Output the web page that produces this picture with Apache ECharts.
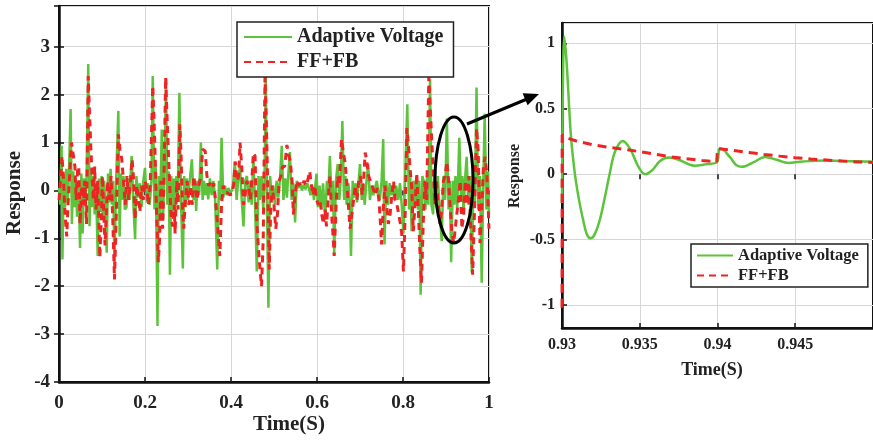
<!DOCTYPE html>
<html>
<head>
<meta charset="utf-8">
<script src="https://cdn.jsdelivr.net/npm/echarts@6/dist/echarts.min.js"></script>
<style>
html,body{margin:0;padding:0;background:#fff;}
#c{width:873px;height:442px;}
</style>
</head>
<body>
<div id="c"></div>
<script>
const seriesNames = ['Adaptive Voltage', 'FF+FB'];

// Main view: time (s), response
const greenMain = [
[0.000,0.05],[0.003,-0.3],[0.006,0.93],[0.008,-1.44],[0.011,0.35],[0.014,-0.35],[0.017,0.45],[0.020,-0.25],[0.023,0.3],[0.027,1.70],
[0.030,-0.7],[0.033,0.4],[0.036,-0.35],[0.039,0.25],[0.042,-0.55],[0.045,0.2],[0.049,-1.2],[0.052,0.35],[0.055,-0.9],[0.058,0.25],
[0.061,-0.3],[0.064,0.2],[0.068,2.64],[0.071,-0.75],[0.074,0.45],[0.077,-0.35],[0.080,0.3],[0.083,-0.5],[0.086,0.15],[0.090,-1.37],
[0.093,0.25],[0.096,-0.45],[0.099,0.3],[0.102,-0.6],[0.105,0.2],[0.108,-0.4],[0.111,-1.3],[0.114,0.35],[0.117,-0.25],[0.120,0.45],
[0.123,-0.3],[0.126,0.2],[0.129,-1.55],[0.133,0.25],[0.138,1.66],[0.141,-0.96],[0.144,0.35],[0.147,-0.2],[0.150,0.3],[0.153,-0.4],
[0.157,-0.35],[0.160,0.25],[0.164,-0.2],[0.169,0.72],[0.173,-0.3],[0.177,-1.02],[0.180,0.3],[0.184,-0.15],[0.188,0.15],[0.192,-0.35],
[0.196,0.2],[0.200,0.47],[0.204,-0.25],[0.207,0.15],[0.211,-0.3],[0.215,0.2],[0.218,2.39],[0.222,-0.4],[0.225,0.5],[0.229,-2.83],
[0.232,0.3],[0.235,-0.5],[0.239,1.27],[0.242,-0.6],[0.245,0.35],[0.249,2.32],[0.252,-0.3],[0.255,0.4],[0.258,-1.76],[0.261,0.3],
[0.264,-0.5],[0.267,0.25],[0.270,-0.45],[0.273,0.3],[0.276,-0.2],[0.280,2.04],[0.284,-0.3],[0.288,-1.63],[0.291,0.3],[0.294,-0.35],
[0.297,0.25],[0.300,-0.2],[0.304,0.2],[0.309,0.65],[0.313,-0.2],[0.316,0.15],[0.319,-0.43],[0.322,0.2],[0.326,-0.1],[0.330,1.0],
[0.334,-0.2],[0.337,0.2],[0.341,-0.1],[0.344,0.15],[0.347,-0.19],[0.351,0.25],[0.355,-0.1],[0.359,0.2],[0.363,-0.15],[0.368,-1.65],
[0.372,0.2],[0.375,-0.2],[0.378,1.1],[0.382,-0.15],[0.386,0.1],[0.390,-0.1],[0.394,0.05],[0.398,-0.05],[0.402,0.0],[0.405,0.15],
[0.409,0.6],[0.413,-0.2],[0.417,0.25],[0.421,0.5],[0.425,-0.2],[0.429,-0.75],[0.433,0.2],[0.437,0.3],[0.441,-0.25],[0.445,0.2],
[0.448,-0.3],[0.452,0.7],[0.456,-0.3],[0.460,-1.69],[0.464,0.3],[0.467,-0.2],[0.471,0.3],[0.475,-0.4],[0.478,0.2],[0.481,2.38],
[0.484,-0.5],[0.487,-2.45],[0.491,0.3],[0.495,-0.2],[0.498,0.1],[0.502,-0.3],[0.506,0.2],[0.510,-0.15],[0.514,0.25],[0.518,0.93],
[0.522,-0.2],[0.526,0.25],[0.530,-0.15],[0.533,0.3],[0.537,0.8],[0.541,-0.2],[0.545,0.15],[0.549,-0.67],[0.553,0.2],[0.557,0.05],
[0.561,0.15],[0.565,0.0],[0.569,0.12],[0.573,0.02],[0.577,0.15],[0.581,0.05],[0.585,-0.1],[0.589,0.1],[0.593,-0.2],[0.596,0.1],
[0.599,0.35],[0.602,-0.35],[0.606,0.1],[0.610,-0.4],[0.614,0.15],[0.619,-0.6],[0.623,0.2],[0.626,-0.1],[0.630,0.72],[0.634,-0.3],
[0.637,0.2],[0.640,-1.34],[0.644,0.2],[0.648,0.55],[0.652,-0.2],[0.655,0.2],[0.659,1.45],[0.663,-0.2],[0.666,0.3],[0.669,-0.3],
[0.673,0.15],[0.676,-0.2],[0.679,-1.37],[0.683,0.2],[0.686,-0.15],[0.690,0.15],[0.693,-0.25],[0.697,0.2],[0.700,0.55],[0.704,-0.2],
[0.707,0.15],[0.711,-0.3],[0.715,0.2],[0.719,0.55],[0.723,-0.2],[0.727,0.1],[0.731,-0.1],[0.735,0.05],[0.739,0.2],[0.743,-0.05],
[0.746,-0.2],[0.750,0.15],[0.754,1.07],[0.757,-1.13],[0.761,0.2],[0.765,-0.3],[0.769,0.15],[0.772,-0.1],[0.776,0.1],[0.780,-0.2],
[0.784,0.1],[0.789,-0.2],[0.793,0.15],[0.797,-0.3],[0.801,-0.9],[0.805,0.3],[0.810,1.8],[0.814,-0.4],[0.817,0.3],[0.820,-0.85],
[0.824,0.2],[0.828,-0.3],[0.831,0.3],[0.835,-0.4],[0.838,0.2],[0.841,-2.18],[0.845,0.3],[0.848,0.2],[0.852,-0.4],[0.856,0.3],
[0.859,-0.3],[0.863,2.32],[0.866,-0.3],[0.870,-0.5],[0.873,0.35],[0.877,-0.3],[0.881,0.3],[0.885,-0.4],[0.890,-1.06],[0.894,0.3],
[0.898,-0.2],[0.902,1.5],[0.906,-0.4],[0.909,0.2],[0.912,-1.5],[0.916,0.2],[0.919,-0.3],[0.922,0.3],[0.926,-0.4],[0.931,1.1],
[0.935,-0.2],[0.938,0.3],[0.941,-0.5],[0.944,0.2],[0.948,0.7],[0.952,-0.3],[0.956,0.3],[0.960,-1.72],[0.964,0.3],[0.967,-0.3],
[0.971,2.15],[0.975,-0.4],[0.979,0.3],[0.983,-1.93],[0.987,0.3],[0.990,1.6],[0.994,-0.4],[0.997,0.4],[1.000,-0.5]
];

const redMain = [
[0.000,-0.2],[0.004,0.3],[0.007,0.72],[0.010,0.3],[0.014,-0.5],[0.018,-0.96],[0.021,-0.3],[0.024,0.2],[0.029,1.0],[0.033,0.75],
[0.037,0.5],[0.040,-0.2],[0.043,0.4],[0.046,0.5],[0.049,-0.7],[0.053,0.1],[0.057,-0.3],[0.060,0.2],[0.064,-0.7],[0.068,2.39],
[0.071,1.6],[0.074,0.9],[0.077,0.3],[0.080,-0.2],[0.083,0.5],[0.086,-0.4],[0.090,0.2],[0.095,-1.4],[0.098,-0.7],[0.101,0.3],
[0.104,-0.4],[0.107,-1.15],[0.110,-0.5],[0.113,0.2],[0.117,-0.2],[0.121,0.3],[0.125,-0.6],[0.129,-1.86],[0.133,-0.6],[0.138,1.17],
[0.142,0.85],[0.146,0.65],[0.150,0.2],[0.154,-0.3],[0.158,0.3],[0.162,-0.2],[0.166,0.2],[0.170,0.65],[0.173,0.3],[0.177,-0.6],
[0.181,0.1],[0.185,-0.2],[0.188,-0.45],[0.192,0.1],[0.196,-0.2],[0.200,0.2],[0.204,0.05],[0.208,-0.3],[0.212,0.1],[0.218,2.18],
[0.221,1.5],[0.224,0.6],[0.227,-0.5],[0.231,-1.5],[0.234,-1.0],[0.237,0.2],[0.241,-0.8],[0.244,0.2],[0.248,2.36],[0.251,1.6],
[0.254,0.9],[0.257,0.2],[0.261,-0.6],[0.265,-0.75],[0.268,-0.3],[0.270,-0.9],[0.274,0.2],[0.277,-0.4],[0.281,1.38],[0.284,0.7],
[0.287,-0.3],[0.290,-0.8],[0.294,-0.2],[0.298,0.2],[0.302,-0.3],[0.306,0.1],[0.310,-0.3],[0.313,0.3],[0.317,0.1],[0.321,-0.2],
[0.325,0.1],[0.330,0.3],[0.334,0.86],[0.340,0.82],[0.344,0.3],[0.348,0.1],[0.352,0.15],[0.356,0.05],[0.360,0.15],[0.365,-0.3],
[0.370,-0.9],[0.374,-1.37],[0.378,-0.3],[0.382,0.1],[0.386,-0.05],[0.392,-0.05],[0.398,-0.1],[0.402,-0.05],[0.406,0.1],[0.410,0.6],
[0.414,0.2],[0.418,0.3],[0.421,1.0],[0.425,0.5],[0.429,-0.3],[0.433,-0.1],[0.437,0.2],[0.441,0.1],[0.445,-0.2],[0.449,0.3],
[0.452,0.78],[0.456,0.72],[0.459,-0.5],[0.463,-1.1],[0.467,-1.6],[0.471,-2.0],[0.475,-1.0],[0.479,2.36],[0.482,1.5],[0.485,0.3],
[0.489,-1.65],[0.492,-0.5],[0.496,0.1],[0.500,-0.3],[0.504,-0.8],[0.508,-0.5],[0.512,0.2],[0.516,0.3],[0.520,0.5],[0.525,0.5],
[0.530,0.95],[0.534,0.75],[0.538,0.6],[0.542,0.2],[0.545,-0.5],[0.549,-0.1],[0.553,0.2],[0.557,0.1],[0.562,0.15],[0.566,0.1],
[0.570,0.2],[0.574,0.1],[0.578,0.2],[0.583,0.4],[0.587,0.1],[0.591,-0.1],[0.595,0.1],[0.599,-0.2],[0.603,-0.3],[0.607,-0.2],
[0.611,-0.5],[0.615,-0.7],[0.619,-0.4],[0.622,-0.75],[0.626,-0.2],[0.630,0.3],[0.634,-0.5],[0.637,-0.9],[0.640,-1.37],[0.644,-0.4],
[0.648,0.3],[0.652,0.1],[0.657,1.07],[0.661,0.8],[0.665,0.6],[0.669,0.2],[0.673,-0.3],[0.677,-0.8],[0.681,-0.5],[0.685,-0.2],
[0.689,0.1],[0.693,-0.2],[0.697,0.2],[0.701,0.3],[0.705,-0.1],[0.709,0.3],[0.712,0.79],[0.716,0.6],[0.720,0.3],[0.724,0.2],
[0.728,0.1],[0.732,0.0],[0.736,-0.1],[0.740,0.05],[0.744,-0.2],[0.747,-0.6],[0.750,-1.13],[0.754,-0.4],[0.758,0.1],[0.762,-0.3],
[0.766,-0.7],[0.770,-0.5],[0.774,-0.1],[0.778,0.2],[0.782,-0.2],[0.786,-0.3],[0.790,-0.5],[0.794,-0.7],[0.797,-0.9],[0.801,-1.69],
[0.805,-0.5],[0.809,1.3],[0.813,0.9],[0.816,0.5],[0.820,0.1],[0.824,-0.85],[0.828,-0.3],[0.832,0.35],[0.836,-0.5],[0.840,-1.4],
[0.843,-1.93],[0.847,-0.7],[0.851,0.2],[0.855,-0.2],[0.860,2.36],[0.863,1.8],[0.867,1.0],[0.870,0.5],[0.874,-0.3],[0.878,0.2],
[0.882,-0.3],[0.886,-0.7],[0.890,-0.4],[0.894,0.2],[0.898,0.3],[0.902,0.6],[0.906,0.2],[0.910,-0.4],[0.914,-0.9],[0.918,-1.1],
[0.921,-1.1],[0.925,-0.5],[0.929,-0.2],[0.933,0.2],[0.937,-0.8],[0.941,-0.5],[0.945,0.2],[0.949,-0.3],[0.953,0.3],[0.957,-0.7],
[0.962,-1.76],[0.966,-0.5],[0.971,1.3],[0.975,0.8],[0.979,-1.1],[0.983,-0.4],[0.987,0.5],[0.991,0.7],[0.995,0.35],[1.000,-0.8]
];

// Zoomed view 0.93 - 0.95 s
const greenZoomT = [0.93,0.93005,0.93015,0.9303,0.93057,0.93083,0.9311,0.93136,0.9316,0.93185,0.9321,0.93243,0.93275,0.93306,0.9334,0.93391,0.9344,0.9349,0.93534,0.9358,0.9363,0.9369,0.9375,0.9385,0.9392,0.93998,0.9401,0.9402,0.9408,0.9412,0.94157,0.9423,0.94307,0.9438,0.94455,0.9453,0.946,0.947,0.948,0.949,0.95];
const greenZoomV = [-0.22,0.6,1.05,0.85,0.3,0.0,-0.2,-0.35,-0.46,-0.49,-0.46,-0.35,-0.18,0.0,0.17,0.254,0.19,0.06,0.0,0.03,0.1,0.127,0.11,0.065,0.075,0.094,0.19,0.196,0.13,0.07,0.056,0.09,0.132,0.11,0.086,0.095,0.1,0.105,0.1,0.098,0.095];
const redZoomT = [0.93,0.93001,0.9305,0.931,0.932,0.933,0.934,0.935,0.936,0.937,0.938,0.939,0.93995,0.94,0.941,0.942,0.943,0.944,0.945,0.946,0.947,0.948,0.949,0.95];
const redZoomV = [-1.02,0.3,0.27,0.25,0.225,0.205,0.19,0.172,0.152,0.133,0.118,0.105,0.095,0.196,0.182,0.166,0.151,0.138,0.126,0.116,0.108,0.1,0.094,0.089];

const GREEN = '#5cc43a';
const RED = '#ee2424';
const FONT = 'Liberation Serif';

function zip(t, v) { return t.map((x, i) => [x, v[i]]); }

const chart = echarts.init(document.getElementById('c'), null, {renderer: 'canvas'});

const labelStyle = (size) => ({fontFamily: FONT, fontWeight: 'bold', fontSize: size, color: '#222'});
const split = {show: true, lineStyle: {color: '#d6d6d6', width: 1}};
const tick = {show: true, inside: true, length: 5, lineStyle: {color: '#111', width: 1.5}};
const line = {show: true, onZero: false, lineStyle: {color: '#111', width: 2.5}};
const hiddenSymbol = {color: 'rgba(0,0,0,0)', borderColor: 'rgba(0,0,0,0)', borderWidth: 0, opacity: 0};

const option = {
  backgroundColor: '#fff',
  animation: false,
  grid: [
    {left: 59, top: 6, width: 430, height: 376, show: true, borderColor: '#111', borderWidth: 2},
    {left: 562, top: 23, width: 313, height: 305, show: true, borderColor: '#111', borderWidth: 2}
  ],
  xAxis: [
    {gridIndex: 0, type: 'value', min: 0, max: 1, interval: 0.2, axisLine: line, axisTick: tick, splitLine: split,
     axisLabel: Object.assign({margin: 12}, labelStyle(19))},
    {gridIndex: 1, type: 'value', min: 0.93, max: 0.95, interval: 0.005, axisLine: line, axisTick: tick, splitLine: split,
     axisLabel: Object.assign({margin: 9, showMaxLabel: false}, labelStyle(16))},
    {gridIndex: 0, type: 'value', position: 'top', min: 0, max: 1, interval: 0.2, axisLine: {show: false}, axisTick: tick, splitLine: {show: false}, axisLabel: {show: false}},
    {gridIndex: 1, type: 'value', position: 'top', min: 0.93, max: 0.95, interval: 0.005, axisLine: {show: false}, axisTick: tick, splitLine: {show: false}, axisLabel: {show: false}}
  ],
  yAxis: [
    {gridIndex: 0, type: 'value', min: -4, max: 3.85, interval: 1, axisLine: line, axisTick: tick, splitLine: split,
     axisLabel: Object.assign({margin: 9, showMaxLabel: false}, labelStyle(19))},
    {gridIndex: 1, type: 'value', min: -1.175, max: 1.155, splitNumber: 5, axisLine: line, axisTick: tick, splitLine: split,
     axisLabel: Object.assign({margin: 7, showMaxLabel: false, showMinLabel: false}, labelStyle(16))},
    {gridIndex: 0, type: 'value', position: 'right', min: -4, max: 3.85, interval: 1, axisLine: {show: false}, axisTick: tick, splitLine: {show: false}, axisLabel: {show: false}}
  ],
  legend: [
    {data: seriesNames, left: 237, top: 22, orient: 'vertical', backgroundColor: '#fff', borderColor: '#222', borderWidth: 1.5,
     padding: [5, 10, 5, 6], itemGap: 5, itemWidth: 48, itemHeight: 14, itemStyle: hiddenSymbol, textStyle: labelStyle(20)},
    {data: seriesNames, left: 691, top: 244, orient: 'vertical', backgroundColor: '#fff', borderColor: '#222', borderWidth: 1.5,
     padding: [3, 9, 3, 5], itemGap: 3, itemWidth: 36, itemHeight: 12, itemStyle: hiddenSymbol, textStyle: labelStyle(16.5)}
  ],
  series: [
    {name: seriesNames[0], type: 'line', xAxisIndex: 0, yAxisIndex: 0, data: greenMain, showSymbol: false, symbol: 'none',
     lineStyle: {color: GREEN, width: 2.5}, itemStyle: {color: GREEN}, z: 2},
    {name: seriesNames[1], type: 'line', xAxisIndex: 0, yAxisIndex: 0, data: redMain, showSymbol: false, symbol: 'none',
     lineStyle: {color: RED, width: 3, type: [7, 5]}, itemStyle: {color: RED}, z: 3},
    {name: seriesNames[0], type: 'line', xAxisIndex: 1, yAxisIndex: 1, data: zip(greenZoomT, greenZoomV), showSymbol: false, symbol: 'none',
     smooth: 0.35, lineStyle: {color: GREEN, width: 2.5}, itemStyle: {color: GREEN}, z: 2},
    {name: seriesNames[1], type: 'line', xAxisIndex: 1, yAxisIndex: 1, data: zip(redZoomT, redZoomV), showSymbol: false, symbol: 'none',
     lineStyle: {color: RED, width: 3, type: [9, 6]}, itemStyle: {color: RED}, z: 3}
  ],
  graphic: [
    {type: 'ellipse', shape: {cx: 454, cy: 180, rx: 19, ry: 63}, style: {fill: 'none', stroke: '#000', lineWidth: 3}, z: 100},
    {type: 'line', shape: {x1: 467, y1: 124, x2: 527, y2: 99}, style: {stroke: '#000', lineWidth: 3}, z: 100},
    {type: 'polygon', shape: {points: [[539, 94], [527.6, 105.2], [522.6, 93.2]]}, style: {fill: '#000'}, z: 100},
    {type: 'text', x: 289, y: 425, style: {text: 'Time(S)', align: 'center', verticalAlign: 'middle', font: 'bold 21px "Liberation Serif"', fill: '#222'}},
    {type: 'text', x: 712, y: 370, style: {text: 'Time(S)', align: 'center', verticalAlign: 'middle', font: 'bold 18px "Liberation Serif"', fill: '#222'}},
    {type: 'text', x: 15, y: 193, rotation: Math.PI / 2, style: {text: 'Response', align: 'center', verticalAlign: 'middle', font: 'bold 21px "Liberation Serif"', fill: '#222'}},
    {type: 'text', x: 515, y: 176, rotation: Math.PI / 2, style: {text: 'Response', align: 'center', verticalAlign: 'middle', font: 'bold 16px "Liberation Serif"', fill: '#222'}}
  ]
};
chart.setOption(option);
</script>
</body>
</html>
